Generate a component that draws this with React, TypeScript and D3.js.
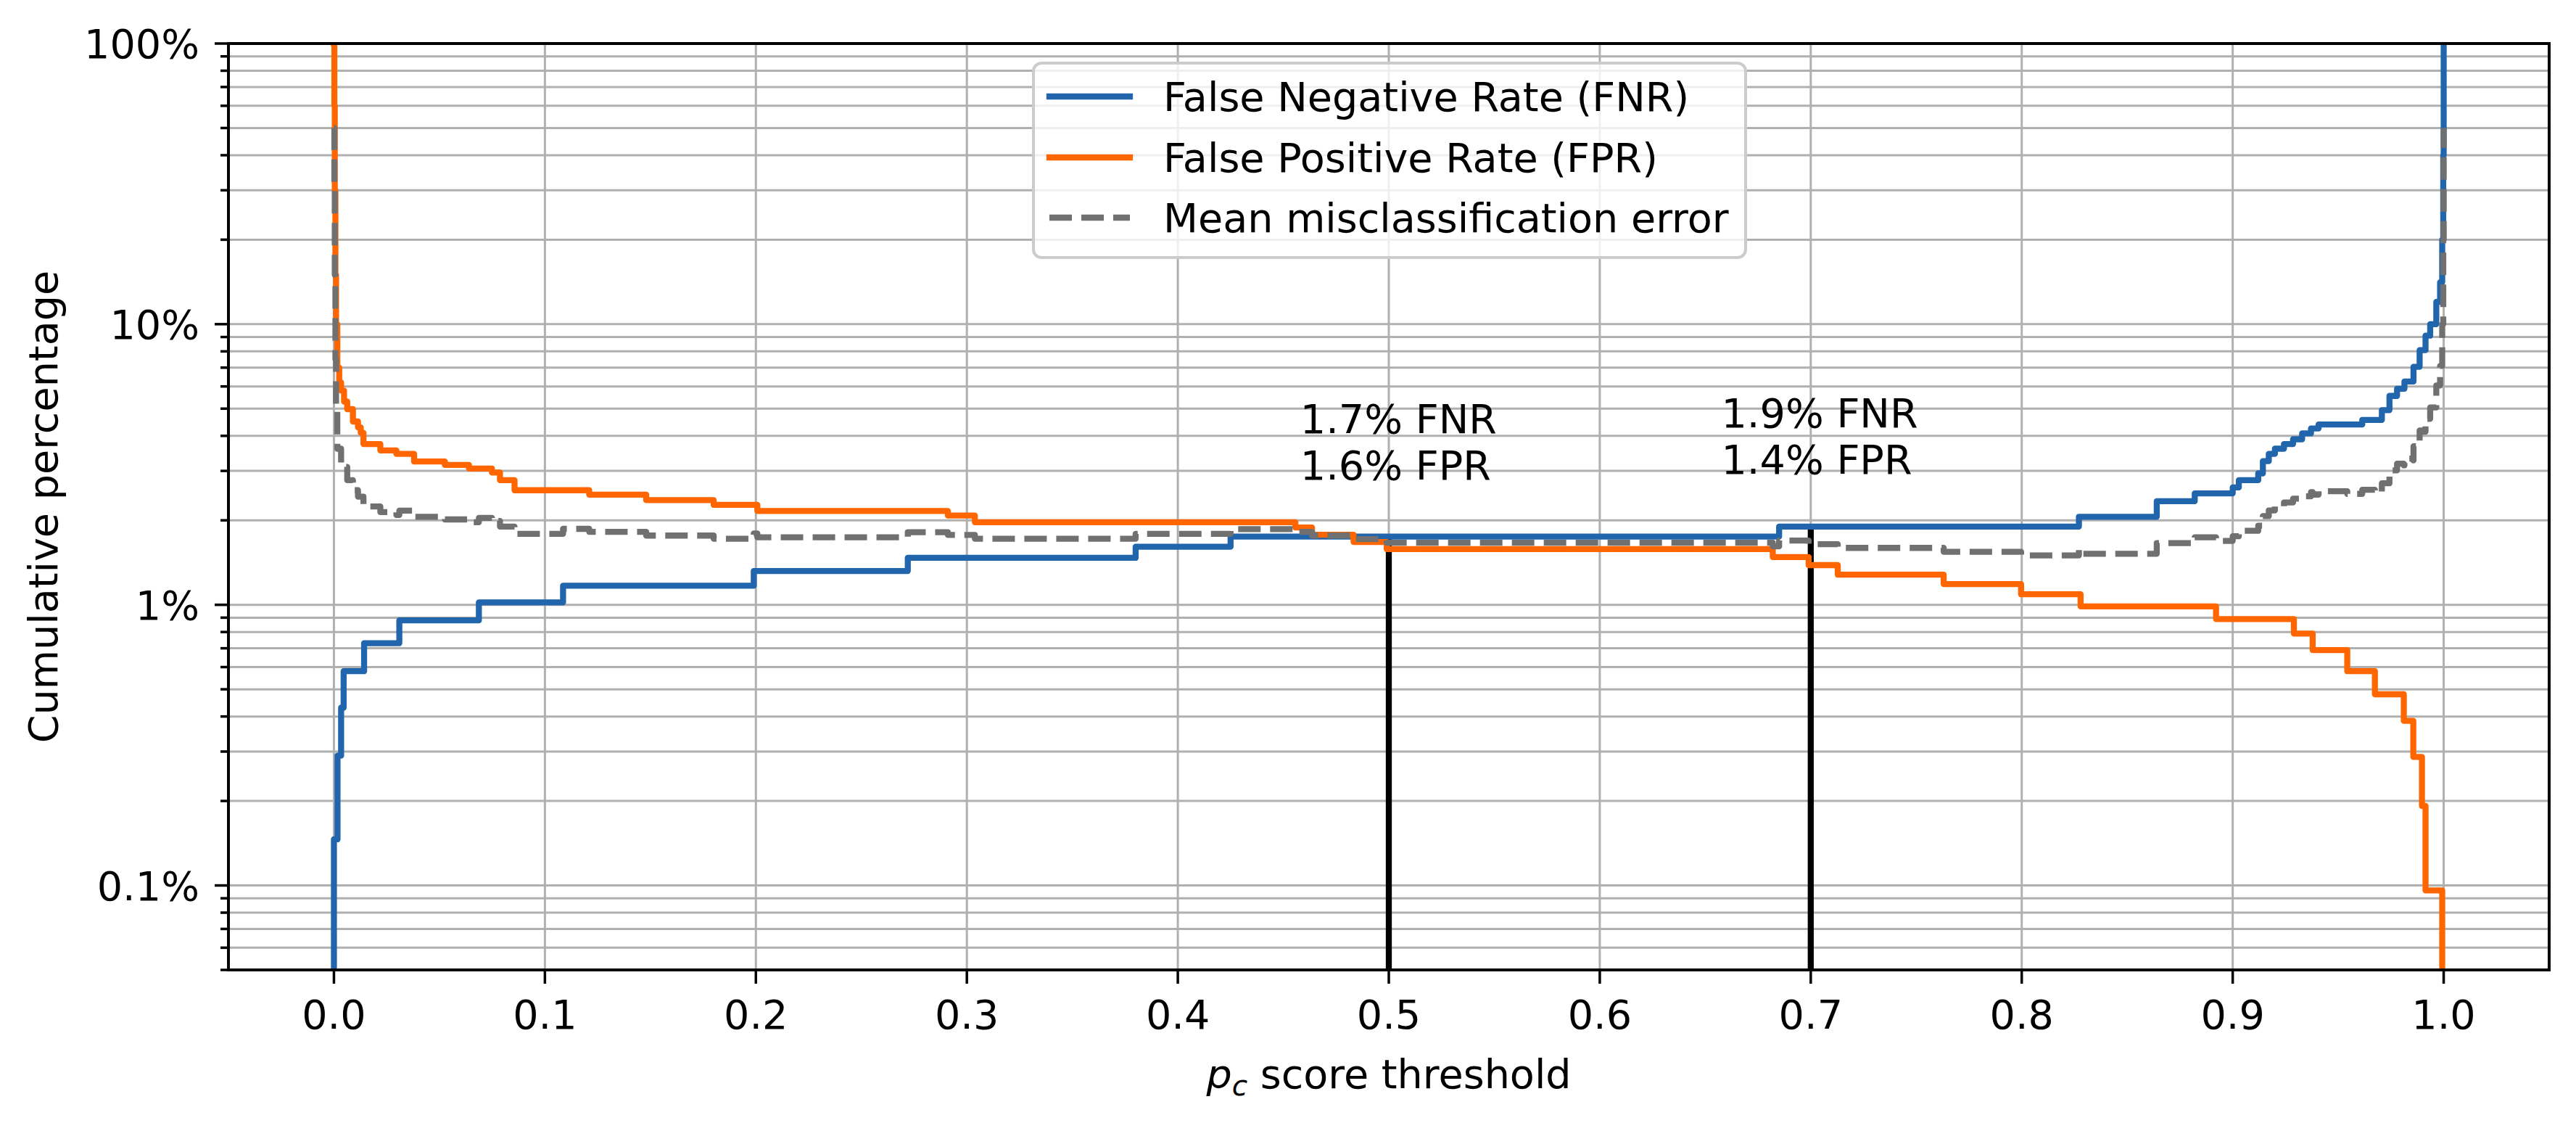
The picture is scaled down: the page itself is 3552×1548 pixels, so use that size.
import React, { useEffect } from 'react';
import * as d3 from 'd3';

// ---------------- data ----------------
// thresholds (p_c) and cumulative percentages, drawn as step-after curves
const fnrThreshold = [0, 0, 0.0017, 0.0034, 0.0046, 0.0143, 0.031, 0.0687, 0.1086, 0.199, 0.272, 0.38, 0.425, 0.685, 0.8271, 0.864, 0.882, 0.9, 0.9029, 0.9121, 0.9143, 0.9171, 0.92, 0.9243, 0.9286, 0.9329, 0.9371, 0.9407, 0.9614, 0.9707, 0.9743, 0.9779, 0.9814, 0.9857, 0.9886, 0.9914, 0.9936, 0.9965, 0.9983, 0.9993, 0.9998, 1.0];
const fnrPercent = [0.01, 0.146, 0.29, 0.43, 0.58, 0.73, 0.88, 1.02, 1.17, 1.32, 1.47, 1.61, 1.75, 1.9, 2.06, 2.34, 2.495, 2.62, 2.78, 2.94, 3.25, 3.45, 3.6, 3.74, 3.89, 4.08, 4.25, 4.39, 4.56, 4.94, 5.55, 5.89, 6.25, 7.05, 8.08, 9.1, 10.0, 12.0, 14.1, 20, 40, 100];

const fprThreshold = [0, 0.0002, 0.0004, 0.0007, 0.001, 0.0016, 0.0025, 0.0034, 0.0048, 0.0063, 0.009, 0.0114, 0.0127, 0.014, 0.022, 0.0296, 0.038, 0.0526, 0.064, 0.0749, 0.0787, 0.0856, 0.121, 0.148, 0.18, 0.2007, 0.291, 0.3038, 0.4557, 0.4636, 0.4833, 0.499, 0.682, 0.699, 0.7128, 0.763, 0.7997, 0.8279, 0.8921, 0.929, 0.9379, 0.9543, 0.9674, 0.9811, 0.9856, 0.9897, 0.9914, 0.9993, 1.0];
const fprPercent = [100, 60, 30, 15, 10, 7, 6.2, 5.8, 5.3, 4.98, 4.5, 4.29, 4.1, 3.74, 3.55, 3.45, 3.24, 3.15, 3.06, 2.96, 2.78, 2.56, 2.47, 2.36, 2.27, 2.16, 2.08, 1.97, 1.886, 1.776, 1.675, 1.58, 1.48, 1.385, 1.28, 1.185, 1.09, 0.987, 0.89, 0.79, 0.69, 0.58, 0.48, 0.386, 0.287, 0.192, 0.096, 0.01, 0.01];

const meanThreshold = [0, 0.0002, 0.0004, 0.0007, 0.001, 0.0016, 0.0034, 0.0063, 0.009, 0.0114, 0.014, 0.022, 0.0296, 0.031, 0.038, 0.0526, 0.064, 0.0687, 0.0749, 0.0787, 0.0856, 0.1086, 0.121, 0.148, 0.18, 0.199, 0.2007, 0.272, 0.291, 0.3038, 0.38, 0.425, 0.4557, 0.4636, 0.4833, 0.499, 0.682, 0.685, 0.699, 0.7128, 0.763, 0.7997, 0.8271, 0.8279, 0.864, 0.882, 0.8921, 0.9, 0.9029, 0.9121, 0.9143, 0.9171, 0.92, 0.9243, 0.9286, 0.9329, 0.9371, 0.9379, 0.9407, 0.9543, 0.9614, 0.9674, 0.9707, 0.9743, 0.9779, 0.9811, 0.9814, 0.9856, 0.9857, 0.9886, 0.9897, 0.9914, 0.9936, 0.9965, 0.9983, 0.9993, 0.9998, 1.0];
const meanPercent = [50, 30, 15, 7.5, 5.0, 3.6, 3.1, 2.78, 2.56, 2.43, 2.24, 2.14, 2.09, 2.165, 2.06, 2.015, 1.97, 2.04, 1.99, 1.9, 1.79, 1.865, 1.82, 1.765, 1.72, 1.795, 1.74, 1.815, 1.775, 1.72, 1.79, 1.86, 1.82, 1.765, 1.715, 1.665, 1.615, 1.695, 1.645, 1.595, 1.545, 1.5, 1.575, 1.52, 1.66, 1.74, 1.69, 1.755, 1.835, 1.915, 2.07, 2.17, 2.245, 2.315, 2.39, 2.435, 2.52, 2.47, 2.54, 2.485, 2.57, 2.52, 2.71, 3.015, 3.185, 3.14, 3.32, 3.27, 3.67, 4.18, 4.14, 4.6, 5.05, 6.05, 7.1, 10.0, 20, 50];

// chosen operating thresholds and their annotated rates
const markThreshold = [0.5, 0.7];
const markTopPercent = [1.75, 1.91];
const markTextLines = [['1.7% FNR', '1.6% FPR'], ['1.9% FNR', '1.4% FPR']];
const markTextX = [0.458, 0.6576];
const markTextY = [4.09, 4.29];

const xTickValues = [0, 0.1, 0.2, 0.3, 0.4, 0.5, 0.6, 0.7, 0.8, 0.9, 1.0];
const xTickLabels = ['0.0', '0.1', '0.2', '0.3', '0.4', '0.5', '0.6', '0.7', '0.8', '0.9', '1.0'];
const yTickValues = [0.1, 1, 10, 100];
const yTickLabels = ['0.1%', '1%', '10%', '100%'];

const legendLabels = ['False Negative Rate (FNR)', 'False Positive Rate (FPR)', 'Mean misclassification error'];

// ---------------- style ----------------
const W = 3552;
const H = 1548;
const L = 315;
const R = 3515;
const T = 60;
const B = 1337;
const FONT = '"DejaVu Sans", Verdana, sans-serif';
const FS = 55.6;
const BLUE = '#2166ac';
const ORANGE = '#ff6600';
const GRAY = '#707070';
const LW = 8.3;

export default function App() {
  useEffect(() => {
    document.body.style.margin = '0';
    document.body.style.overflow = 'hidden';
  }, []);

  const x = d3.scaleLinear().domain([-0.05, 1.05]).range([L, R]);
  const y = d3.scaleLog().domain([0.05, 100]).range([B, T]);

  const line = d3
    .line<[number, number]>()
    .x((d) => x(d[0]))
    .y((d) => y(d[1]))
    .curve(d3.curveStepAfter);

  const zip = (a: number[], b: number[]) => a.map((v, i) => [v, b[i]] as [number, number]);

  const allY = y.ticks();
  const majorSet = new Set(yTickValues.map((v) => v.toPrecision(3)));
  const minorY = allY.filter((v) => !majorSet.has(v.toPrecision(3)));

  const series = [
    { d: line(zip(fnrThreshold, fnrPercent)) || '', color: BLUE, dash: undefined as string | undefined },
    { d: line(zip(fprThreshold, fprPercent)) || '', color: ORANGE, dash: undefined as string | undefined },
    { d: line(zip(meanThreshold, meanPercent)) || '', color: GRAY, dash: '31 13' },
  ];

  const legendColors = [BLUE, ORANGE, GRAY];
  const legendDash = [undefined, undefined, '31 13'];
  const legendRows = [133, 217, 300];

  return (
    <svg
      width={W}
      height={H}
      viewBox={`0 0 ${W} ${H}`}
      style={{ position: 'absolute', left: 0, top: 0, display: 'block', background: '#fff' }}
      fontFamily={FONT}
    >
      <defs>
        <clipPath id="plotClip">
          <rect x={L} y={T} width={R - L} height={B - T} />
        </clipPath>
      </defs>
      <rect x={0} y={0} width={W} height={H} fill="#fff" />

      {/* grid */}
      <g stroke="#b0b0b0" strokeWidth={3}>
        {allY.map((v, i) => (
          <line key={'gy' + i} x1={L} x2={R} y1={y(v)} y2={y(v)} />
        ))}
        {xTickValues.map((v, i) => (
          <line key={'gx' + i} x1={x(v)} x2={x(v)} y1={T} y2={B} />
        ))}
      </g>

      {/* threshold markers */}
      <g clipPath="url(#plotClip)">
        {markThreshold.map((t, i) => (
          <line key={'m' + i} x1={x(t)} x2={x(t)} y1={B + 10} y2={y(markTopPercent[i])} stroke="#000" strokeWidth={LW} />
        ))}
      </g>

      {/* curves */}
      <g clipPath="url(#plotClip)" fill="none">
        {series.map((s, i) => (
          <path
            key={'s' + i}
            d={s.d}
            stroke={s.color}
            strokeWidth={LW}
            strokeDasharray={s.dash}
            strokeLinejoin="round"
            strokeLinecap={s.dash ? 'butt' : 'square'}
          />
        ))}
      </g>

      {/* annotations */}
      {markTextLines.map((lines, i) => (
        <text key={'a' + i} x={x(markTextX[i])} y={y(markTextY[i])} fontSize={FS} fill="#000">
          {lines.map((t, j) => (
            <tspan key={j} x={x(markTextX[i])} dy={j === 0 ? 0 : 64}>
              {t}
            </tspan>
          ))}
        </text>
      ))}

      {/* spines */}
      <rect x={L} y={T} width={R - L} height={B - T} fill="none" stroke="#000" strokeWidth={4} />

      {/* y ticks */}
      <g stroke="#000" strokeWidth={3.5}>
        {yTickValues.map((v, i) => (
          <line key={'yt' + i} x1={L - 19} x2={L} y1={y(v)} y2={y(v)} />
        ))}
        {minorY.map((v, i) => (
          <line key={'ymt' + i} x1={L - 11} x2={L} y1={y(v)} y2={y(v)} />
        ))}
        {xTickValues.map((v, i) => (
          <line key={'xt' + i} x1={x(v)} x2={x(v)} y1={B} y2={B + 19} />
        ))}
      </g>
      <g fontSize={FS} fill="#000">
        {yTickValues.map((v, i) => (
          <text key={'yl' + i} x={L - 40} y={y(v) + 20.3} textAnchor="end">
            {yTickLabels[i]}
          </text>
        ))}
        {xTickValues.map((v, i) => (
          <text key={'xl' + i} x={x(v)} y={1418} textAnchor="middle">
            {xTickLabels[i]}
          </text>
        ))}
      </g>

      {/* axis labels */}
      <text x={(L + R) / 2} y={1500} fontSize={FS} textAnchor="middle" fill="#000">
        <tspan fontStyle="italic">p</tspan>
        <tspan fontStyle="italic" fontSize={FS * 0.7} dy={10}>c</tspan>
        <tspan dy={-10}> score threshold</tspan>
      </text>
      <text
        transform={`translate(79, ${(T + B) / 2}) rotate(-90)`}
        fontSize={FS}
        textAnchor="middle"
        fill="#000"
      >
        Cumulative percentage
      </text>

      {/* legend */}
      <g>
        <rect x={1425} y={87} width={982} height={268} rx={11} ry={11} fill="#fff" fillOpacity={0.8} stroke="#cccccc" strokeWidth={4} />
        {legendLabels.map((lab, i) => (
          <g key={'lg' + i}>
            <line
              x1={1447}
              x2={1558}
              y1={legendRows[i]}
              y2={legendRows[i]}
              stroke={legendColors[i]}
              strokeWidth={LW}
              strokeDasharray={legendDash[i]}
              strokeLinecap={legendDash[i] ? 'butt' : 'square'}
            />
            <text x={1604} y={legendRows[i] + 20} fontSize={FS} fill="#000">
              {lab}
            </text>
          </g>
        ))}
      </g>
    </svg>
  );
}
